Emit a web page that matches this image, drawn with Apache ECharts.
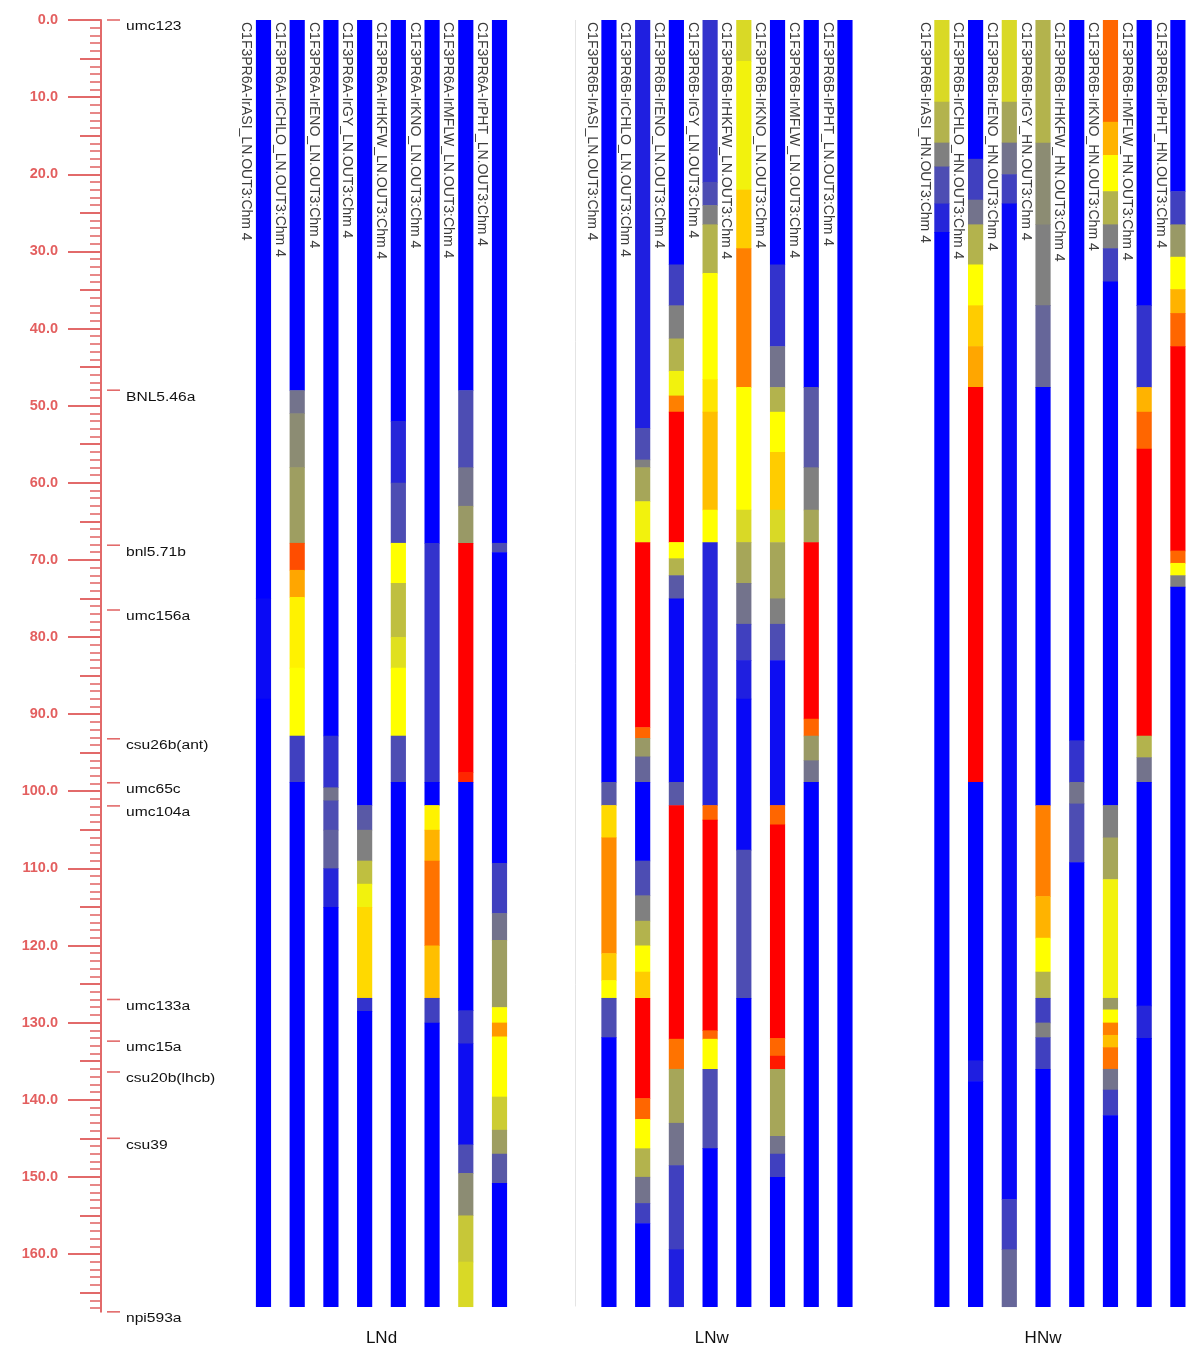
<!DOCTYPE html>
<html><head><meta charset="utf-8">
<script src="https://cdn.jsdelivr.net/npm/echarts@6/dist/echarts.min.js"></script>
<style>html,body{margin:0;padding:0;background:#fff}#c{width:1187px;height:1352px}</style>
</head><body><div id="c"></div><script>
// ---------------- DATA ----------------
const TICK_LABELS = [0,10,20,30,40,50,60,70,80,90,100,110,120,130,140,150,160];
const MARKERS = ['umc123','BNL5.46a','bnl5.71b','umc156a','csu26b(ant)','umc65c','umc104a','umc133a','umc15a','csu20b(lhcb)','csu39','npi593a'];
const MARKER_CM = [0, 48.0, 68.1, 76.5, 93.2, 98.9, 101.9, 127.0, 132.4, 136.4, 145.0, 167.5];
const GROUP_NAMES = ['LNd','LNw','HNw'];
const TRAITS_LNd = ['C1F3PR6A-IrASI_LN.OUT3:Chm 4','C1F3PR6A-IrCHLO_LN.OUT3:Chm 4','C1F3PR6A-IrENO_LN.OUT3:Chm 4','C1F3PR6A-IrGY_LN.OUT3:Chm 4','C1F3PR6A-IrHKFW_LN.OUT3:Chm 4','C1F3PR6A-IrKNO_LN.OUT3:Chm 4','C1F3PR6A-IrMFLW_LN.OUT3:Chm 4','C1F3PR6A-IrPHT_LN.OUT3:Chm 4'];
const TRAITS_LNw = ['C1F3PR6B-IrASI_LN.OUT3:Chm 4','C1F3PR6B-IrCHLO_LN.OUT3:Chm 4','C1F3PR6B-IrENO_LN.OUT3:Chm 4','C1F3PR6B-IrGY_LN.OUT3:Chm 4','C1F3PR6B-IrHKFW_LN.OUT3:Chm 4','C1F3PR6B-IrKNO_LN.OUT3:Chm 4','C1F3PR6B-IrMFLW_LN.OUT3:Chm 4','C1F3PR6B-IrPHT_LN.OUT3:Chm 4'];
const TRAITS_HNw = ['C1F3PR6B-IrASI_HN.OUT3:Chm 4','C1F3PR6B-IrCHLO_HN.OUT3:Chm 4','C1F3PR6B-IrENO_HN.OUT3:Chm 4','C1F3PR6B-IrGY_HN.OUT3:Chm 4','C1F3PR6B-IrHKFW_HN.OUT3:Chm 4','C1F3PR6B-IrKNO_HN.OUT3:Chm 4','C1F3PR6B-IrMFLW_HN.OUT3:Chm 4','C1F3PR6B-IrPHT_HN.OUT3:Chm 4'];

// segments: [start cM, end cM, score]  (0 = blue, 1 = yellow, 2 = red)
const LNd_ASI  = [[0,75,0],[75,88,0.04],[88,166.8,0]];
const LNd_CHLO = [[0,48,0],[48,51,0.45],[51,58,0.55],[58,67.8,0.62],[67.8,71.3,1.7],[71.3,74.8,1.35],[74.8,84,1.05],[84,92.8,1.0],[92.8,98.8,0.25],[98.8,166.8,0]];
const LNd_ENO  = [[0,92.8,0],[92.8,99.5,0.2],[99.5,101.2,0.45],[101.2,105,0.3],[105,110,0.38],[110,115,0.15],[115,166.8,0]];
const LNd_GY   = [[0,101.8,0],[101.8,105,0.35],[105,109,0.5],[109,112,0.75],[112,115,0.95],[115,126.8,1.15],[126.8,128.5,0.2],[128.5,166.8,0]];
const LNd_HKFW = [[0,52,0],[52,60,0.15],[60,67.8,0.3],[67.8,73,1.0],[73,80,0.75],[80,84,0.88],[84,92.8,1.0],[92.8,98.8,0.3],[98.8,166.8,0]];
const LNd_KNO  = [[0,67.8,0],[67.8,98.8,0.2],[98.8,101.8,0],[101.8,105,1.05],[105,109,1.3],[109,120,1.55],[120,126.8,1.25],[126.8,130,0.25],[130,166.8,0]];
const LNd_MFLW = [[0,48,0],[48,58,0.3],[58,63,0.45],[63,67.8,0.6],[67.8,97.5,2.0],[97.5,98.8,1.85],[98.8,128.4,0],[128.4,132.7,0.2],[132.7,145.8,0.05],[145.8,149.5,0.3],[149.5,155,0.55],[155,161,0.78],[161,166.8,0.85]];
const LNd_PHT  = [[0,67.8,0],[67.8,69,0.3],[69,109.3,0],[109.3,115.8,0.25],[115.8,119.3,0.45],[119.3,128,0.62],[128,130,1.0],[130,131.8,1.4],[131.8,139.6,1.0],[139.6,143.9,0.8],[143.9,147,0.62],[147,150.8,0.35],[150.8,166.8,0]];

const LNw_ASI  = [[0,98.8,0],[98.8,101.8,0.35],[101.8,106,1.15],[106,121,1.45],[121,124.5,1.2],[124.5,126.8,1.0],[126.8,131.9,0.3],[131.9,166.8,0]];
const LNw_CHLO = [[0,52.9,0.12],[52.9,57,0.3],[57,58,0.5],[58,62.4,0.65],[62.4,67.7,0.95],[67.7,91.7,2.0],[91.7,93.1,1.6],[93.1,95.5,0.6],[95.5,98.8,0.4],[98.8,109,0],[109,113.5,0.3],[113.5,116.8,0.5],[116.8,120,0.7],[120,123.4,1.0],[123.4,126.8,1.2],[126.8,139.8,2.0],[139.8,142.5,1.6],[142.5,146.3,1.0],[146.3,150,0.7],[150,153.4,0.45],[153.4,156,0.25],[156,166.8,0]];
const LNw_ENO  = [[0,31.7,0],[31.7,37,0.25],[37,41.3,0.5],[41.3,45.5,0.7],[45.5,48.7,0.95],[48.7,50.8,1.5],[50.8,67.7,2.0],[67.7,69.8,1.0],[69.8,72,0.7],[72,75,0.35],[75,98.8,0.03],[98.8,101.8,0.35],[101.8,132.1,2.0],[132.1,136,1.55],[136,143,0.65],[143,148.5,0.45],[148.5,159.4,0.25],[159.4,166.8,0.12]];
const LNw_GY   = [[0,21,0.2],[21,24,0.3],[24,26.5,0.5],[26.5,32.8,0.7],[32.8,46.6,1.0],[46.6,50.8,1.1],[50.8,63.5,1.25],[63.5,67.7,1.0],[67.7,101.8,0.15],[101.8,103.7,1.6],[103.7,131,2.0],[131,132.1,1.6],[132.1,136,1.0],[136,146.3,0.3],[146.3,166.8,0]];
const LNw_HKFW = [[0,5.3,0.85],[5.3,22,0.95],[22,29.6,1.2],[29.6,47.6,1.5],[47.6,63.5,1.0],[63.5,67.7,0.85],[67.7,73,0.65],[73,78.3,0.45],[78.3,83,0.25],[83,88,0.12],[88,107.6,0.03],[107.6,126.8,0.3],[126.8,166.8,0]];
const LNw_KNO  = [[0,31.7,0],[31.7,42.3,0.2],[42.3,47.6,0.45],[47.6,50.8,0.7],[50.8,56,1.0],[56,63.5,1.2],[63.5,67.7,0.85],[67.7,75,0.65],[75,78.3,0.5],[78.3,83,0.3],[83,101.8,0.05],[101.8,104.3,1.6],[104.3,132,2.0],[132,134.3,1.6],[134.3,136,1.9],[136,144.7,0.65],[144.7,147,0.45],[147,150,0.25],[150,166.8,0]];
const LNw_MFLW = [[0,47.6,0],[47.6,58,0.35],[58,63.5,0.5],[63.5,67.7,0.65],[67.7,90.6,2.0],[90.6,92.8,1.6],[92.8,96,0.6],[96,98.8,0.45],[98.8,166.8,0]];
const LNw_PHT  = [[0,166.8,0]];

const HNw_ASI  = [[0,10.6,0.85],[10.6,15.9,0.7],[15.9,19,0.5],[19,23.8,0.3],[23.8,27.5,0.15],[27.5,166.8,0]];
const HNw_CHLO = [[0,18,0],[18,23.3,0.25],[23.3,26.5,0.45],[26.5,31.7,0.7],[31.7,37,1.0],[37,42.3,1.2],[42.3,47.6,1.35],[47.6,98.8,2.0],[98.8,134.9,0],[134.9,137.6,0.12],[137.6,166.8,0]];
const HNw_ENO  = [[0,10.6,0.85],[10.6,15.9,0.65],[15.9,20,0.45],[20,23.8,0.25],[23.8,152.9,0.03],[152.9,159.4,0.25],[159.4,166.8,0.4]];
const HNw_GY   = [[0,15.9,0.7],[15.9,26.5,0.55],[26.5,37,0.5],[37,47.6,0.4],[47.6,101.8,0],[101.8,113.6,1.5],[113.6,119,1.3],[119,123.4,1.0],[123.4,126.8,0.7],[126.8,130,0.25],[130,131.9,0.5],[131.9,136,0.25],[136,166.8,0]];
const HNw_HKFW = [[0,93.4,0],[93.4,98.8,0.2],[98.8,101.6,0.45],[101.6,109.2,0.3],[109.2,166.8,0]];
const HNw_KNO  = [[0,13.2,1.6],[13.2,17.5,1.3],[17.5,22.2,1.0],[22.2,26.5,0.7],[26.5,29.6,0.5],[29.6,33.9,0.25],[33.9,101.8,0],[101.8,106,0.5],[106,111.4,0.65],[111.4,126.8,0.95],[126.8,128.3,0.6],[128.3,130,1.0],[130,131.6,1.5],[131.6,133.2,1.25],[133.2,136,1.55],[136,138.7,0.45],[138.7,142,0.25],[142,166.8,0]];
const HNw_MFLW = [[0,37,0],[37,47.6,0.2],[47.6,50.8,1.3],[50.8,55.6,1.6],[55.6,92.8,2.0],[92.8,95.6,0.7],[95.6,98.8,0.45],[98.8,127.8,0],[127.8,132,0.15],[132,166.8,0]];
const HNw_PHT  = [[0,22.2,0],[22.2,26.5,0.25],[26.5,30.7,0.6],[30.7,34.9,1.0],[34.9,38,1.3],[38,42.3,1.6],[42.3,68.8,2.0],[68.8,70.4,1.6],[70.4,72,1.0],[72,73.5,0.5],[73.5,166.8,0]];

// ---------------- LAYOUT ----------------
const GROUP_OFFSETS = [0, 10.246, 20.12];
const GROUP_LABEL_POS = [3.5, 3.05, 3.0];
const X_MIN = -4.819, X_MAX = 27.39;
const Y_MAX = 167.5;
const AXIS_RED = '#e26a6a';

const GROUPS = [
  {traits: TRAITS_LNd, cols: [LNd_ASI, LNd_CHLO, LNd_ENO, LNd_GY, LNd_HKFW, LNd_KNO, LNd_MFLW, LNd_PHT]},
  {traits: TRAITS_LNw, cols: [LNw_ASI, LNw_CHLO, LNw_ENO, LNw_GY, LNw_HKFW, LNw_KNO, LNw_MFLW, LNw_PHT]},
  {traits: TRAITS_HNw, cols: [HNw_ASI, HNw_CHLO, HNw_ENO, HNw_GY, HNw_HKFW, HNw_KNO, HNw_MFLW, HNw_PHT]}
];

const segData = [], labelData = [], labelNames = [];
GROUPS.forEach((g, gi) => {
  g.cols.forEach((col, ci) => {
    const xu = GROUP_OFFSETS[gi] + ci;
    col.forEach(s => segData.push([xu, s[0], s[1], s[2]]));
    labelData.push([xu, 0]);
    labelNames.push(g.traits[ci]);
  });
});
const groupData = GROUP_NAMES.map((n, i) => [GROUP_OFFSETS[i] + GROUP_LABEL_POS[i], Y_MAX]);
const markerData = MARKER_CM.map(cm => [X_MIN, cm]);

const mediumTicks = [], minorTicks = [];
for (let v = 5; v < Y_MAX; v += 10) mediumTicks.push(v);
for (let v = 1; v < Y_MAX; v += 1) minorTicks.push(v);

const chart = echarts.init(document.getElementById('c'), null, {renderer: 'canvas'});
const baseY = {
  type: 'value', inverse: true, min: 0, max: Y_MAX, position: 'left',
  splitLine: {show: false}
};
chart.setOption({
  animation: false,
  backgroundColor: '#ffffff',
  grid: {left: 101, top: 20, right: 0, bottom: 1352 - 20 - Y_MAX * 7.7125},
  xAxis: {type: 'value', min: X_MIN, max: X_MAX, show: false},
  yAxis: [
    Object.assign({}, baseY, {
      axisLine: {show: true, onZero: false, lineStyle: {color: AXIS_RED, width: 2}},
      axisTick: {show: true, customValues: TICK_LABELS, length: 33, lineStyle: {color: AXIS_RED, width: 2}},
      axisLabel: {show: true, customValues: TICK_LABELS, margin: 43, color: '#e35f5f',
        fontFamily: 'Liberation Sans', fontWeight: 'bold', fontSize: 14.5,
        formatter: v => Number(v).toFixed(1)}
    }),
    Object.assign({}, baseY, {
      axisLine: {show: false, onZero: false},
      axisTick: {show: true, customValues: mediumTicks, length: 21, lineStyle: {color: AXIS_RED, width: 2}},
      axisLabel: {show: false}
    }),
    Object.assign({}, baseY, {
      axisLine: {show: false, onZero: false},
      axisTick: {show: true, customValues: minorTicks, length: 11, lineStyle: {color: AXIS_RED, width: 1.6}},
      axisLabel: {show: false}
    })
  ],
  visualMap: {
    type: 'continuous', show: false, seriesIndex: 0, dimension: 3, min: 0, max: 2,
    inRange: {color: ['#0000ff', '#ffff00', '#ff0000']}
  },
  series: [
    {
      type: 'custom', name: 'qtl', data: segData,
      encode: {x: 0, y: [1, 2]},
      renderItem: function (params, api) {
        const xv = api.value(0);
        const p1 = api.coord([xv, api.value(1)]);
        const p2 = api.coord([xv, api.value(2)]);
        const w = api.size([1, 0])[0] * 0.45;
        const c = api.visual('color');
        return {type: 'rect', shape: {x: p1[0] - w / 2, y: p1[1], width: w, height: p2[1] - p1[1] + 0.6},
          style: {fill: c}};
      },
      markLine: {
        silent: true, symbol: 'none', label: {show: false},
        lineStyle: {color: '#e4e4e4', width: 1, type: 'solid'},
        data: [[{coord: [GROUP_OFFSETS[1] - 1.0, 0]}, {coord: [GROUP_OFFSETS[1] - 1.0, 166.8]}]]
      }
    },
    {
      type: 'custom', name: 'traits', data: labelData, encode: {x: 0, y: 1},
      renderItem: function (params, api) {
        const p = api.coord([api.value(0), 0]);
        return {type: 'text', x: p[0] - 17.5, y: p[1] + 2, rotation: -Math.PI / 2,
          style: {text: labelNames[params.dataIndex], fill: '#3c3c3c',
            font: '14px "Liberation Sans"', align: 'left', verticalAlign: 'middle'}};
      }
    },
    {
      type: 'custom', name: 'markers', data: markerData, encode: {x: 0, y: 1},
      renderItem: function (params, api) {
        const p = api.coord([api.value(0), api.value(1)]);
        return {type: 'group', children: [
          {type: 'line', shape: {x1: p[0] + 6, y1: p[1], x2: p[0] + 19, y2: p[1]},
            style: {stroke: AXIS_RED, lineWidth: 1.6}},
          {type: 'text', x: p[0] + 25, y: p[1] + 7, scaleX: 1.3, scaleY: 1,
            style: {text: MARKERS[params.dataIndex], fill: '#111', font: '12px "Liberation Sans"',
              align: 'left', verticalAlign: 'middle'}}
        ]};
      }
    },
    {
      type: 'custom', name: 'groups', data: groupData, encode: {x: 0, y: 1},
      renderItem: function (params, api) {
        const p = api.coord([api.value(0), api.value(1)]);
        return {type: 'text', x: p[0], y: p[1] + 26,
          style: {text: GROUP_NAMES[params.dataIndex], fill: '#111', font: '17px "Liberation Sans"',
            align: 'center', verticalAlign: 'middle'}};
      }
    }
  ]
});
</script></body></html>
